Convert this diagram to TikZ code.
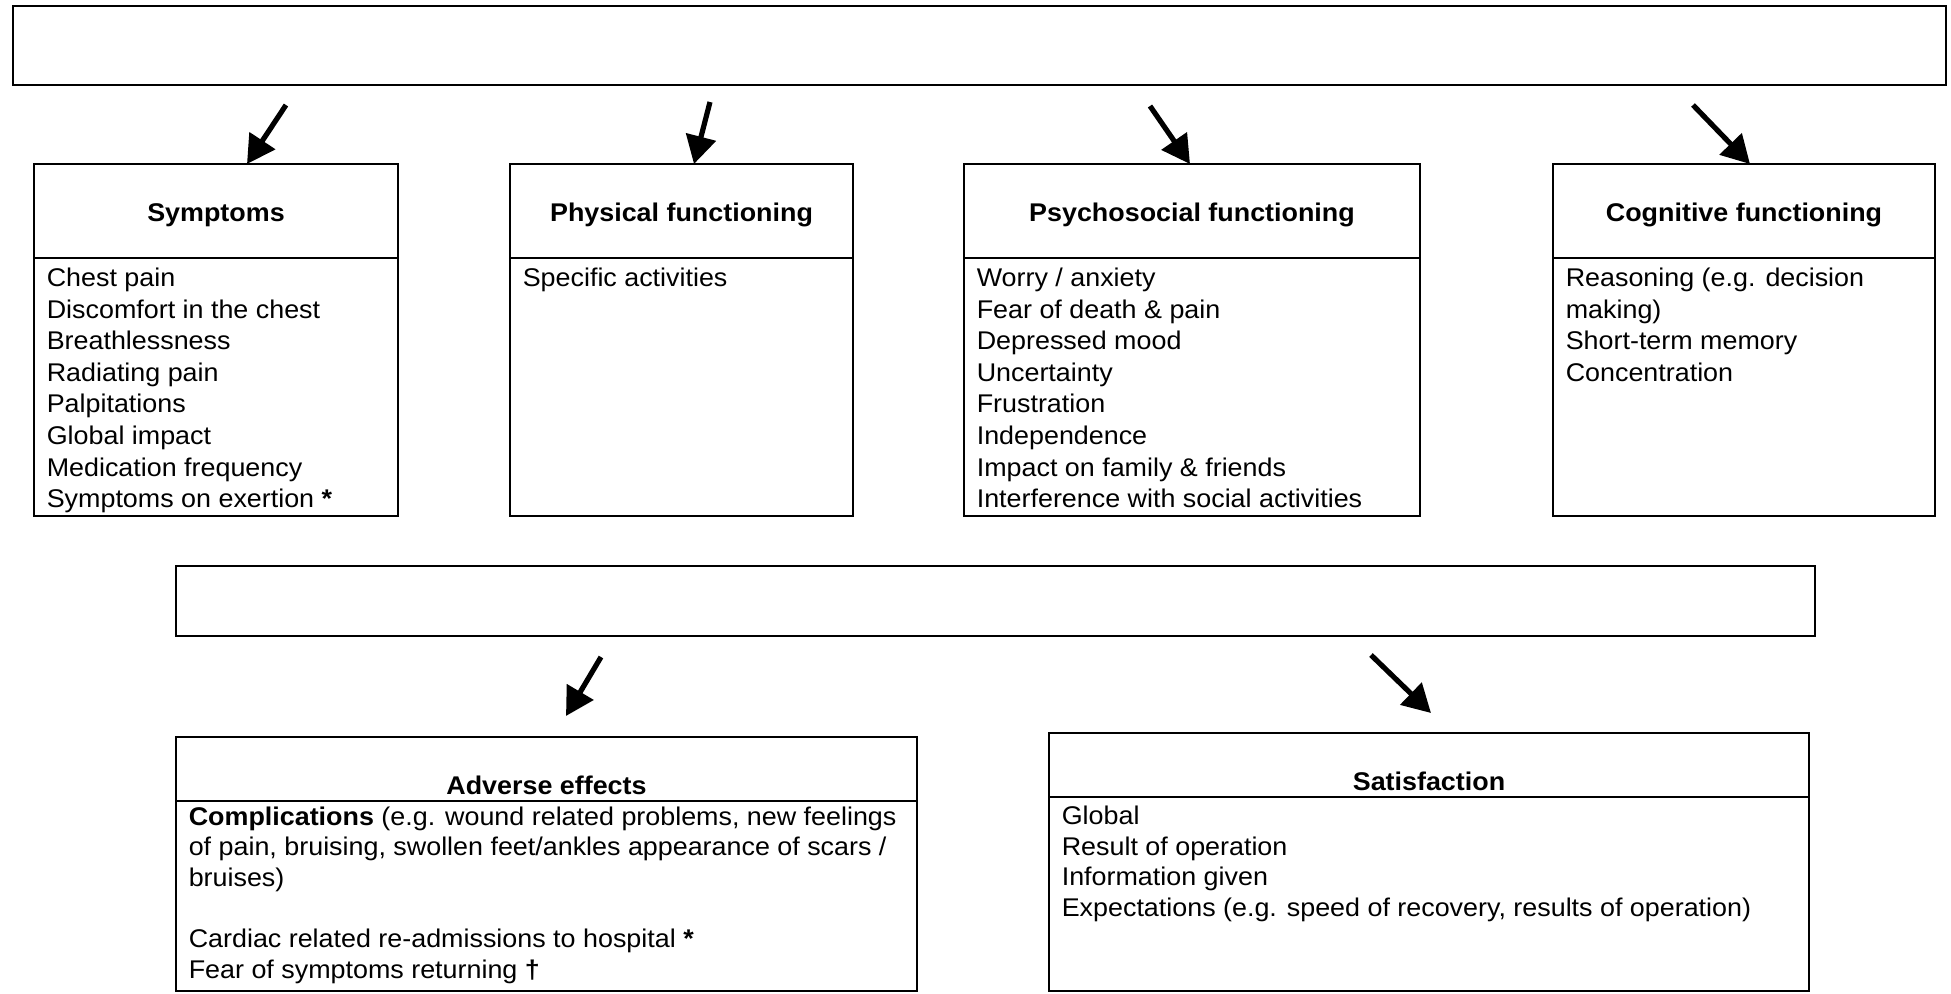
\documentclass[tikz,border=0pt]{standalone}
\usepackage{fontspec}
\setmainfont{Liberation Sans}[FakeStretch=1.05]
\usetikzlibrary{arrows.meta,fit}
\begin{document}
\begin{tikzpicture}[x=0.5pt,y=-0.5pt,
  frame/.style={draw, line width=1.1pt, inner sep=0pt},
  head/.style={font=\fontsize{12.8}{15.8}\selectfont\bfseries, inner sep=0pt, anchor=base},
  items/.style={font=\fontsize{12.8}{15.8}\selectfont, inner sep=0pt, anchor=north west, align=left},
  lowitems/.style={items, font=\fontsize{12.8}{15.3}\selectfont},
  arr/.style={line width=2.6pt, -{Triangle[length=14pt,width=15pt]}}]
\useasboundingbox (0,0) rectangle (1951,993);

% top banner
\node[frame, fit={(13,6) (1946,85)}] (top) {};

% Symptoms
\node[frame, fit={(34,164) (398,258)}] (symh) {};
\node[frame, fit={(34,258) (398,516)}] (symb) {};
\node[head] (symtitle) at (216,221) {Symptoms};
\node[items] (symt) at ([xshift=6.75pt,yshift=-3.5pt]symb.north west)
  {\strut Chest pain\\Discomfort in the chest\\Breathlessness\\Radiating pain\\Palpitations\\Global impact\\Medication frequency\\Symptoms on exertion {\bfseries *}};

% Physical functioning
\node[frame, fit={(510,164) (853,258)}] (phyh) {};
\node[frame, fit={(510,258) (853,516)}] (phyb) {};
\node[head] (phytitle) at (681.5,221) {Physical functioning};
\node[items] (phyt) at ([xshift=6.75pt,yshift=-3.5pt]phyb.north west)
  {\strut Specific activities};

% Psychosocial functioning
\node[frame, fit={(964,164) (1420,258)}] (psyh) {};
\node[frame, fit={(964,258) (1420,516)}] (psyb) {};
\node[head] (psytitle) at (1192,221) {Psychosocial functioning};
\node[items] (psyt) at ([xshift=6.75pt,yshift=-3.5pt]psyb.north west)
  {\strut Worry / anxiety\\Fear of death \& pain\\Depressed mood\\Uncertainty\\Frustration\\Independence\\Impact on family \& friends\\Interference with social activities};

% Cognitive functioning
\node[frame, fit={(1553,164) (1935,258)}] (cogh) {};
\node[frame, fit={(1553,258) (1935,516)}] (cogb) {};
\node[head] (cogtitle) at (1744,221) {Cognitive functioning};
\node[items] (cogt) at ([xshift=6.75pt,yshift=-3.5pt]cogb.north west)
  {\strut Reasoning (e.g. decision\\making)\\Short-term memory\\Concentration};

% middle banner
\node[frame, fit={(176,566) (1815,636)}] (mid) {};

% Adverse effects
\node[frame, fit={(176,737) (917,801)}] (advh) {};
\node[frame, fit={(176,801) (917,991)}] (advb) {};
\node[head] (advtitle) at (546.5,794) {Adverse effects};
\node[lowitems] (advt) at ([xshift=6.75pt,yshift=-1.7pt]advb.north west)
  {\strut{\bfseries Complications} (e.g. wound related problems, new feelings\\of pain, bruising, swollen feet/ankles appearance of scars /\\bruises)\\\mbox{}\\Cardiac related re-admissions to hospital {\bfseries *}\\Fear of symptoms returning {\bfseries †}};

% Satisfaction
\node[frame, fit={(1049,733) (1809,797)}] (sath) {};
\node[frame, fit={(1049,797) (1809,991)}] (satb) {};
\node[head] (sattitle) at (1429,790) {Satisfaction};
\node[lowitems] (satt) at ([xshift=6.75pt,yshift=-3.5pt]satb.north west)
  {\strut Global\\Result of operation\\Information given\\Expectations (e.g. speed of recovery, results of operation)};

% arrows
\coordinate (s1) at (286,105);  \coordinate (e1) at (247,164);
\coordinate (s2) at (710,102);  \coordinate (e2) at (694,164);
\coordinate (s3) at (1150,106); \coordinate (e3) at (1190,164);
\coordinate (s4) at (1693,105); \coordinate (e4) at (1750,164);
\coordinate (s5) at (601,657);  \coordinate (e5) at (566,716);
\coordinate (s6) at (1371,655); \coordinate (e6) at (1431,713);
\draw[arr] (s1) -- (e1);
\draw[arr] (s2) -- (e2);
\draw[arr] (s3) -- (e3);
\draw[arr] (s4) -- (e4);
\draw[arr] (s5) -- (e5);
\draw[arr] (s6) -- (e6);
\end{tikzpicture}
\end{document}
